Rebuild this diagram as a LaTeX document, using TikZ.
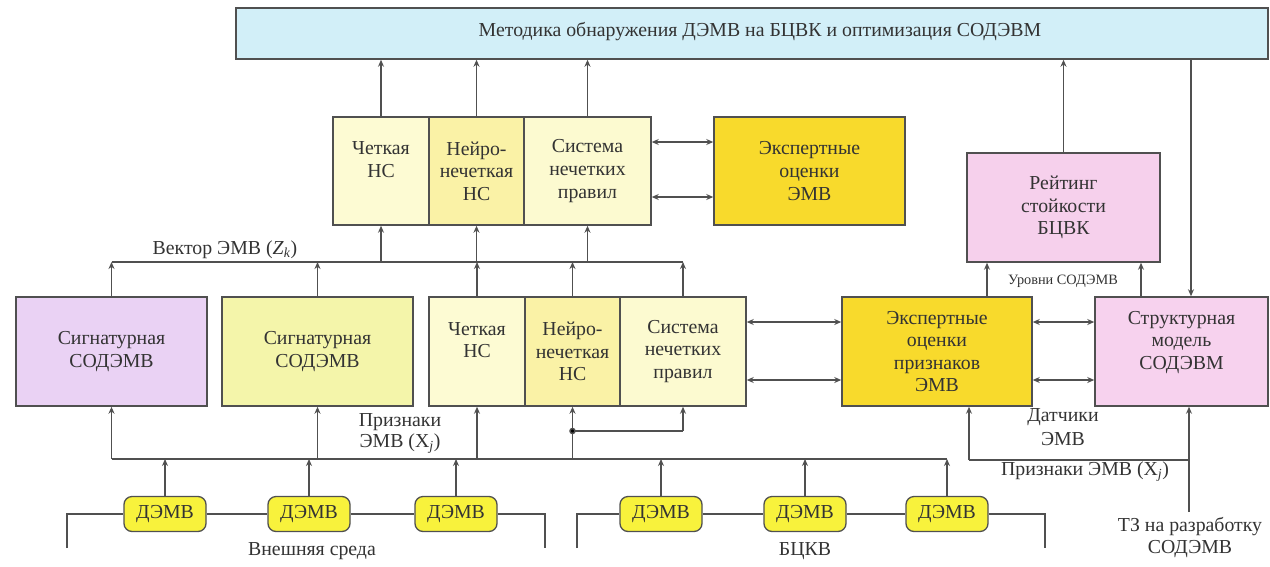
\documentclass[tikz,border=0pt]{standalone}
\usepackage{fontspec}
\setmainfont{Liberation Serif}
\usetikzlibrary{arrows.meta}
\definecolor{ln}{HTML}{505050}
\definecolor{tx}{HTML}{333333}
\definecolor{cTop}{HTML}{D2EFF8}
\definecolor{cCl}{HTML}{FDFBD3}
\definecolor{cNf}{HTML}{FAF2A6}
\definecolor{cSy}{HTML}{FCFAD0}
\definecolor{cEx}{HTML}{F8DA2C}
\definecolor{cSigA}{HTML}{EAD2F4}
\definecolor{cSigB}{HTML}{F4F5AA}
\definecolor{cStr}{HTML}{F7D2EE}
\definecolor{cRat}{HTML}{F6D0EC}
\definecolor{cDem}{HTML}{F8F23C}
\begin{document}
\begin{tikzpicture}[x=1pt,y=-1pt,
  box/.style={draw=ln,line width=1.5pt,inner sep=0pt},
  txt/.style={text=tx,inner sep=0pt,align=center,scale=1.1,transform shape,
    font=\fontsize{18}{20.5}\selectfont},
  dem/.style={draw=ln,line width=1.3pt,fill=cDem,rounded corners=8pt,minimum width=82pt,
    minimum height=35pt,inner sep=0pt},
  arr/.style={draw=ln,line width=1.5pt,-{Stealth[length=7pt,width=6pt]}},
  darr/.style={draw=ln,line width=1.5pt,{Stealth[length=7pt,width=6pt]}-{Stealth[length=7pt,width=6pt]}},
  ln/.style={draw=ln,line width=1.5pt}]
\useasboundingbox (0,0) rectangle (1270,566);
% top
\node[box,fill=cTop,minimum width=1032pt,minimum height=51pt] (top) at (752,33.5) {};
\node[txt] (ttl) at (760,32) {Методика обнаружения ДЭМВ на БЦВК и оптимизация СОДЭВМ};
% upper group
\node[box,fill=cCl,minimum width=96pt,minimum height=108pt] (u1) at (381,171) {};
\node[box,fill=cNf,minimum width=95pt,minimum height=108pt] (u2) at (476.5,171) {};
\node[box,fill=cSy,minimum width=127pt,minimum height=108pt] (u3) at (587.5,171) {};
\node[box,fill=cEx,minimum width=191pt,minimum height=108pt] (ue) at (809.5,171) {};
\node[txt] (u1t) at (u1) {Четкая\\НС\\\phantom{НС}};
\node[txt] (u2t) at (u2) {Нейро-\\нечеткая\\НС};
\node[txt] (u3t) at (u3) {Система\\нечетких\\правил};
\node[txt] (uet) at (ue) {Экспертные\\оценки\\ЭМВ};
% rating
\node[box,fill=cRat,minimum width=193pt,minimum height=109pt] (r) at (1063.5,207.5) {};
\node[txt] (rt) at (r) {Рейтинг\\стойкости\\БЦВК};
% lower row
\node[box,fill=cSigA,minimum width=191pt,minimum height=109pt] (sa) at (111.5,351.5) {};
\node[box,fill=cSigB,minimum width=191pt,minimum height=109pt] (sb) at (317.5,351.5) {};
\node[box,fill=cCl,minimum width=96pt,minimum height=109pt] (l1) at (477,351.5) {};
\node[box,fill=cNf,minimum width=95pt,minimum height=109pt] (l2) at (572.5,351.5) {};
\node[box,fill=cSy,minimum width=126pt,minimum height=109pt] (l3) at (683,351.5) {};
\node[box,fill=cEx,minimum width=190pt,minimum height=109pt] (le) at (937,351.5) {};
\node[box,fill=cStr,minimum width=173pt,minimum height=109pt] (s) at (1181.5,351.5) {};
\node[txt] (sat) at (sa) {Сигнатурная\\СОДЭМВ};
\node[txt] (sbt) at (sb) {Сигнатурная\\СОДЭМВ};
\node[txt] (l1t) at (l1) {Четкая\\НС\\\phantom{НС}};
\node[txt] (l2t) at (l2) {Нейро-\\нечеткая\\НС};
\node[txt] (l3t) at (l3) {Система\\нечетких\\правил};
\node[txt] (let) at (le) {Экспертные\\оценки\\признаков\\ЭМВ};
\node[txt] (st) at (s) {Структурная\\модель\\СОДЭВМ\\\phantom{X}};
% sensors
\foreach \n/\x in {d1/165,d2/309,d3/456,d4/661,d5/805,d6/947}{
  \node[dem] (\n) at (\x,514) {};
  \node[txt] (\n t) at (\n) {ДЭМВ};
}
% coordinates
\coordinate (bU) at (0,262);
\coordinate (bL) at (0,459);
\coordinate (ya) at (0,142);
\coordinate (yb) at (0,197);
\coordinate (yc) at (0,322);
\coordinate (yd) at (0,380);
\coordinate (yj) at (0,431);
\coordinate (xr1) at (987,0);
\coordinate (xr2) at (1141,0);
\coordinate (xdn) at (1191,0);
\coordinate (tz) at (1189,512);
\coordinate (fb) at (969,460);
\coordinate (ea1) at (67,548);
\coordinate (ea2) at (67,514);
\coordinate (eb1) at (545,514);
\coordinate (eb2) at (545,548);
\coordinate (ec1) at (577,548);
\coordinate (ec2) at (577,514);
\coordinate (ed1) at (1045,514);
\coordinate (ed2) at (1045,548);
% to top box
\draw[arr] (u1.north) -- (u1.north |- top.south);
\draw[arr] (u2.north) -- (u2.north |- top.south);
\draw[arr] (u3.north) -- (u3.north |- top.south);
\draw[arr] (r.north) -- (r.north |- top.south);
\draw[arr] (xdn |- top.south) -- (xdn |- s.north);
% expert links
\draw[darr] (u3.east |- ya) -- (ue.west |- ya);
\draw[darr] (u3.east |- yb) -- (ue.west |- yb);
\draw[darr] (l3.east |- yc) -- (le.west |- yc);
\draw[darr] (l3.east |- yd) -- (le.west |- yd);
\draw[darr] (le.east |- yc) -- (s.west |- yc);
\draw[darr] (le.east |- yd) -- (s.west |- yd);
% rating inputs
\draw[arr] (xr1 |- le.north) -- (xr1 |- r.south);
\draw[arr] (xr2 |- s.north) -- (xr2 |- r.south);
% upper bus
\draw[ln] (sa.north |- bU) -- (l3.north |- bU);
\draw[arr] (sa.north) -- (sa.north |- bU);
\draw[arr] (sb.north) -- (sb.north |- bU);
\draw[arr] (l1.north) -- (l1.north |- bU);
\draw[arr] (l2.north) -- (l2.north |- bU);
\draw[arr] (l3.north) -- (l3.north |- bU);
\draw[arr] (u1.south |- bU) -- (u1.south);
\draw[arr] (u2.south |- bU) -- (u2.south);
\draw[arr] (u3.south |- bU) -- (u3.south);
% lower bus
\draw[ln] (sa.south |- bL) -- (d6.north |- bL);
\draw[arr] (sa.south |- bL) -- (sa.south);
\draw[arr] (sb.south |- bL) -- (sb.south);
\draw[arr] (l1.south |- bL) -- (l1.south);
\draw[arr] (l2.south |- bL) -- (l2.south);
\draw[ln] (l2.south |- yj) -- (l3.south |- yj);
\draw[arr] (l3.south |- yj) -- (l3.south);
\fill[ln] (l2.south |- yj) circle (2.5pt);
\foreach \d in {d1,d2,d3,d4,d5,d6} \draw[arr] (\d.north) -- (\d.north |- bL);
% environment brackets
\draw[ln] (ea1) -- (ea2) -- (d1.west) (d1.east) -- (d2.west) (d2.east) -- (d3.west) (d3.east) -- (eb1) -- (eb2);
\draw[ln] (ec1) -- (ec2) -- (d4.west) (d4.east) -- (d5.west) (d5.east) -- (d6.west) (d6.east) -- (ed1) -- (ed2);
% feedback
\draw[arr] (tz) -- (tz |- s.south);
\draw[ln] (tz |- fb) -- (fb);
\draw[arr] (fb) -- (fb |- le.south);
% labels
\node[txt] (vz) at (225,250) {Вектор ЭМВ (\textit{Z}\textsubscript{\textit{k}})};
\node[txt] (px1) at (400,422) {Признаки};
\node[txt] (px2) at (400,444) {ЭМВ (X\textsubscript{\textit{j}})};
\node[txt,font=\fontsize{13}{15}\selectfont] (lv) at (1063,281) {Уровни СОДЭМВ};
\node[txt] (ds1) at (1063,417) {Датчики};
\node[txt] (ds2) at (1063,439) {ЭМВ};
\node[txt] (px3) at (1085,472) {Признаки ЭМВ (X\textsubscript{\textit{j}})};
\node[txt] (tz1) at (1190,527) {ТЗ на разработку};
\node[txt] (tz2) at (1190,549) {СОДЭМВ};
\node[txt] (env1) at (312,551) {Внешняя среда};
\node[txt] (env2) at (805,551) {БЦКВ};
\end{tikzpicture}
\end{document}
